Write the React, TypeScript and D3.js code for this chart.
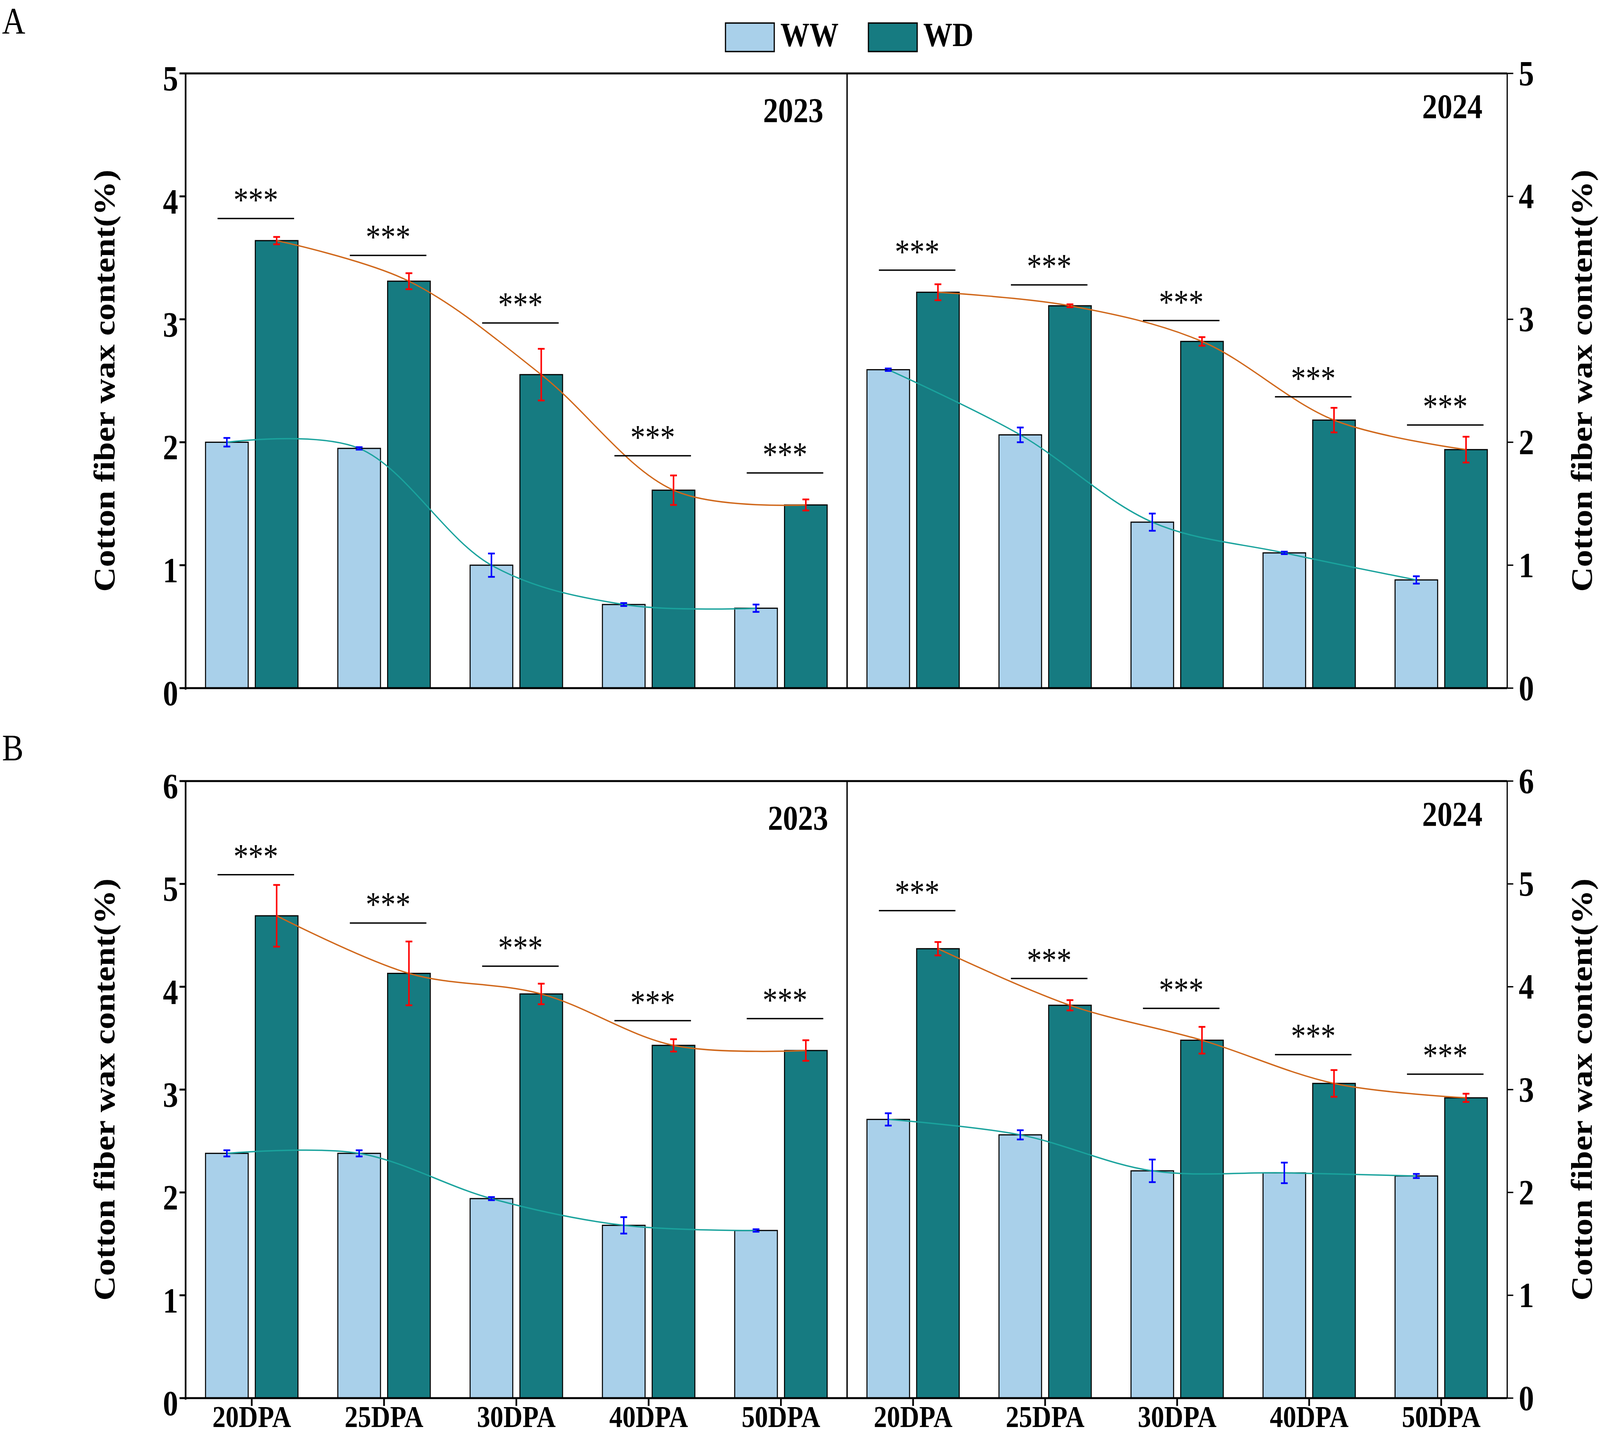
import { useEffect } from 'react';
import * as d3 from 'd3';

const categories = ['20DPA', '25DPA', '30DPA', '40DPA', '50DPA'];
const seriesNames = ['WW', 'WD'];

// Panel A, 2023
const a23WW = [2.0, 1.95, 1.0, 0.68, 0.65];
const a23WWErr = [0.035, 0.01, 0.095, 0.012, 0.03];
const a23WD = [3.64, 3.31, 2.55, 1.61, 1.49];
const a23WDErr = [0.03, 0.065, 0.21, 0.12, 0.045];
const a23Sig = [3.82, 3.52, 2.97, 1.89, 1.75];

// Panel A, 2024
const a24WW = [2.59, 2.06, 1.35, 1.1, 0.88];
const a24WWErr = [0.01, 0.06, 0.07, 0.01, 0.03];
const a24WD = [3.22, 3.11, 2.82, 2.18, 1.94];
const a24WDErr = [0.065, 0.012, 0.035, 0.1, 0.105];
const a24Sig = [3.4, 3.28, 2.99, 2.37, 2.14];

// Panel B, 2023
const b23WW = [2.38, 2.38, 1.94, 1.68, 1.63];
const b23WWErr = [0.03, 0.03, 0.015, 0.08, 0.012];
const b23WD = [4.69, 4.13, 3.93, 3.43, 3.38];
const b23WDErr = [0.3, 0.31, 0.1, 0.06, 0.1];
const b23Sig = [5.09, 4.62, 4.2, 3.67, 3.69];

// Panel B, 2024
const b24WW = [2.71, 2.56, 2.21, 2.19, 2.16];
const b24WWErr = [0.06, 0.045, 0.11, 0.1, 0.02];
const b24WD = [4.37, 3.82, 3.48, 3.06, 2.92];
const b24WDErr = [0.065, 0.05, 0.13, 0.13, 0.04];
const b24Sig = [4.74, 4.08, 3.79, 3.34, 3.15];

const yTicksA = [0, 1, 2, 3, 4, 5];
const yTicksB = [0, 1, 2, 3, 4, 5, 6];

const FONT = "'Liberation Serif', 'Times New Roman', serif";
const C_WW = '#a9d0ea';
const C_WD = '#167b81';
const C_WW_LINE = '#1aa39d';
const C_WD_LINE = '#d0671a';

const W = 4724;
const H = 3677;
const xL = 548;
const xM = 2501;
const xR = 4450;

interface HalfData {
  year: string;
  ww: number[];
  wwErr: number[];
  wd: number[];
  wdErr: number[];
  sig: number[];
}

interface PanelDef {
  letter: string;
  top: number;
  bottom: number;
  ticks: number[];
  halves: HalfData[];
  xLabels: boolean;
}

const panels: PanelDef[] = [
  {
    letter: 'A', top: 188, bottom: 1762, ticks: yTicksA, xLabels: false,
    halves: [
      { year: '2023', ww: a23WW, wwErr: a23WWErr, wd: a23WD, wdErr: a23WDErr, sig: a23Sig },
      { year: '2024', ww: a24WW, wwErr: a24WWErr, wd: a24WD, wdErr: a24WDErr, sig: a24Sig },
    ],
  },
  {
    letter: 'B', top: 2000, bottom: 3580, ticks: yTicksB, xLabels: true,
    halves: [
      { year: '2023', ww: b23WW, wwErr: b23WWErr, wd: b23WD, wdErr: b23WDErr, sig: b23Sig },
      { year: '2024', ww: b24WW, wwErr: b24WWErr, wd: b24WD, wdErr: b24WDErr, sig: b24Sig },
    ],
  },
];

function Half({ d, x0, x1, y, xLabels, bottom, top, yearX }: {
  d: HalfData; x0: number; x1: number; y: d3.ScaleLinear<number, number>;
  xLabels: boolean; bottom: number; top: number; yearX: number;
}) {
  const xg = d3.scaleBand<string>().domain(categories).range([x0, x1]);
  const xs = d3.scaleBand<string>().domain(seriesNames)
    .range([0, xg.bandwidth()]).paddingInner(0.143).paddingOuter(0.4);
  const bw = xs.bandwidth();
  const cx = (s: string, c: string) => (xg(c) ?? 0) + (xs(s) ?? 0) + bw / 2;

  const line = d3.line<[number, number]>()
    .x(p => p[0]).y(p => p[1])
    .curve(d3.curveCatmullRom.alpha(0.5));

  const series = [
    { name: 'WW', vals: d.ww, errs: d.wwErr, fill: C_WW, lineC: C_WW_LINE, errC: '#0000ff' },
    { name: 'WD', vals: d.wd, errs: d.wdErr, fill: C_WD, lineC: C_WD_LINE, errC: '#ff0000' },
  ];
  const sigLen = 226;
  const sigShift = 12;

  return (
    <g>
      {series.map(s => categories.map((c, i) => (
        <rect key={s.name + c} x={(xg(c) ?? 0) + (xs(s.name) ?? 0)} y={y(s.vals[i])}
          width={bw} height={bottom - y(s.vals[i])} fill={s.fill} stroke="#000" strokeWidth={3} />
      )))}
      {series.map(s => (
        <path key={'l' + s.name}
          d={line(categories.map((c, i) => [cx(s.name, c), y(s.vals[i])] as [number, number])) ?? ''}
          fill="none" stroke={s.lineC} strokeWidth={3.5} />
      ))}
      {series.map(s => categories.map((c, i) => {
        const x = cx(s.name, c);
        const y1 = y(s.vals[i] + s.errs[i]);
        const y2 = y(s.vals[i] - s.errs[i]);
        return (
          <g key={'e' + s.name + c} stroke={s.errC} strokeWidth={4.5}>
            <line x1={x} x2={x} y1={y1} y2={y2} />
            <line x1={x - 10} x2={x + 10} y1={y1} y2={y1} />
            <line x1={x - 10} x2={x + 10} y1={y2} y2={y2} />
          </g>
        );
      }))}
      {categories.map((c, i) => {
        const mid = (xg(c) ?? 0) + xg.bandwidth() / 2 + sigShift;
        const ys = y(d.sig[i]);
        return (
          <g key={'s' + c}>
            <line x1={mid - sigLen / 2} x2={mid + sigLen / 2} y1={ys} y2={ys} stroke="#000" strokeWidth={3.5} />
            <text x={mid} y={ys - 18} textAnchor="middle" fontSize={88} fontFamily={FONT}>***</text>
          </g>
        );
      })}
      {xLabels && categories.map(c => {
        const mid = (xg(c) ?? 0) + xg.bandwidth() / 2;
        return (
          <g key={'x' + c}>
            <line x1={mid} x2={mid} y1={bottom} y2={bottom + 20} stroke="#000" strokeWidth={5} />
            <text x={mid} y={3654} textAnchor="middle" fontSize={78} fontWeight="bold" fontFamily={FONT}>{c}</text>
          </g>
        );
      })}
      <text x={yearX} y={top + (d.year === '2023' ? 124 : 114)} textAnchor="end" fontSize={89}
        fontWeight="bold" fontFamily={FONT}>{d.year}</text>
    </g>
  );
}

function Panel({ p }: { p: PanelDef }) {
  const max = p.ticks[p.ticks.length - 1];
  const y = d3.scaleLinear().domain([0, max]).range([p.bottom, p.top]);
  const mid = (p.top + p.bottom) / 2;
  const title = 'Cotton fiber wax content(%)';
  return (
    <g>
      <text x={6} y={p.letter === 'A' ? 86 : 1947} fontSize={95} fontFamily={FONT}>{p.letter}</text>
      <Half d={p.halves[0]} x0={xL} x1={xM} y={y} xLabels={p.xLabels} bottom={p.bottom} top={p.top}
        yearX={p.letter === 'A' ? 2431 : 2445} />
      <Half d={p.halves[1]} x0={xM} x1={xR} y={y} xLabels={p.xLabels} bottom={p.bottom} top={p.top}
        yearX={4377} />
      {/* frame */}
      <line x1={xL} x2={xR} y1={p.top} y2={p.top} stroke="#000" strokeWidth={5} />
      <line x1={xL - 2} x2={xR} y1={p.bottom} y2={p.bottom} stroke="#000" strokeWidth={5} />
      <line x1={xL} x2={xL} y1={p.top - 2} y2={p.bottom + 4} stroke="#000" strokeWidth={5} />
      <line x1={xM} x2={xM} y1={p.top} y2={p.bottom} stroke="#000" strokeWidth={4} />
      <line x1={xR} x2={xR} y1={p.top} y2={p.bottom} stroke="#000" strokeWidth={3.5} />
      {p.ticks.map(t => (
        <g key={t}>
          <line x1={xL - 18} x2={xL} y1={y(t)} y2={y(t)} stroke="#000" strokeWidth={5} />
          <text x={526} y={y(t)} dy="0.49em" textAnchor="end" fontSize={90} fontWeight="bold" fontFamily={FONT}>{t}</text>
          <line x1={xR} x2={xR + 18} y1={y(t)} y2={y(t)} stroke="#000" strokeWidth={3.5} />
          <text x={4484} y={y(t)} dy="0.34em" textAnchor="start" fontSize={90} fontWeight="bold" fontFamily={FONT}>{t}</text>
        </g>
      ))}
      <text transform={`translate(338,${mid}) rotate(-90)`} textAnchor="middle" fontSize={88}
        fontWeight="bold" fontFamily={FONT}>{title}</text>
      <text transform={`translate(4700,${mid}) rotate(-90)`} textAnchor="middle" fontSize={88}
        fontWeight="bold" fontFamily={FONT}>{title}</text>
    </g>
  );
}

export default function App() {
  useEffect(() => {
    document.body.style.margin = '0';
    document.body.style.overflow = 'hidden';
  }, []);

  const legend = [
    { name: 'WW', fill: C_WW, x: 2142 },
    { name: 'WD', fill: C_WD, x: 2564 },
  ];

  // the drawing is laid out on a 4724x3677 grid and stretched to fill the viewport
  return (
    <svg viewBox={`0 0 ${W} ${H}`} preserveAspectRatio="none"
      style={{ position: 'fixed', left: 0, top: 0, width: '100vw', height: '100vh', display: 'block', background: '#fff' }}>
      <rect width={W} height={H} fill="#fff" />
      {legend.map(l => (
        <g key={l.name}>
          <rect x={l.x} y={59} width={144} height={73} fill={l.fill} stroke="#000" strokeWidth={3.5} />
          <text x={l.x + 162} y={118} fontSize={86} fontWeight="bold" fontFamily={FONT}>{l.name}</text>
        </g>
      ))}
      {panels.map(p => <Panel key={p.letter} p={p} />)}
    </svg>
  );
}
